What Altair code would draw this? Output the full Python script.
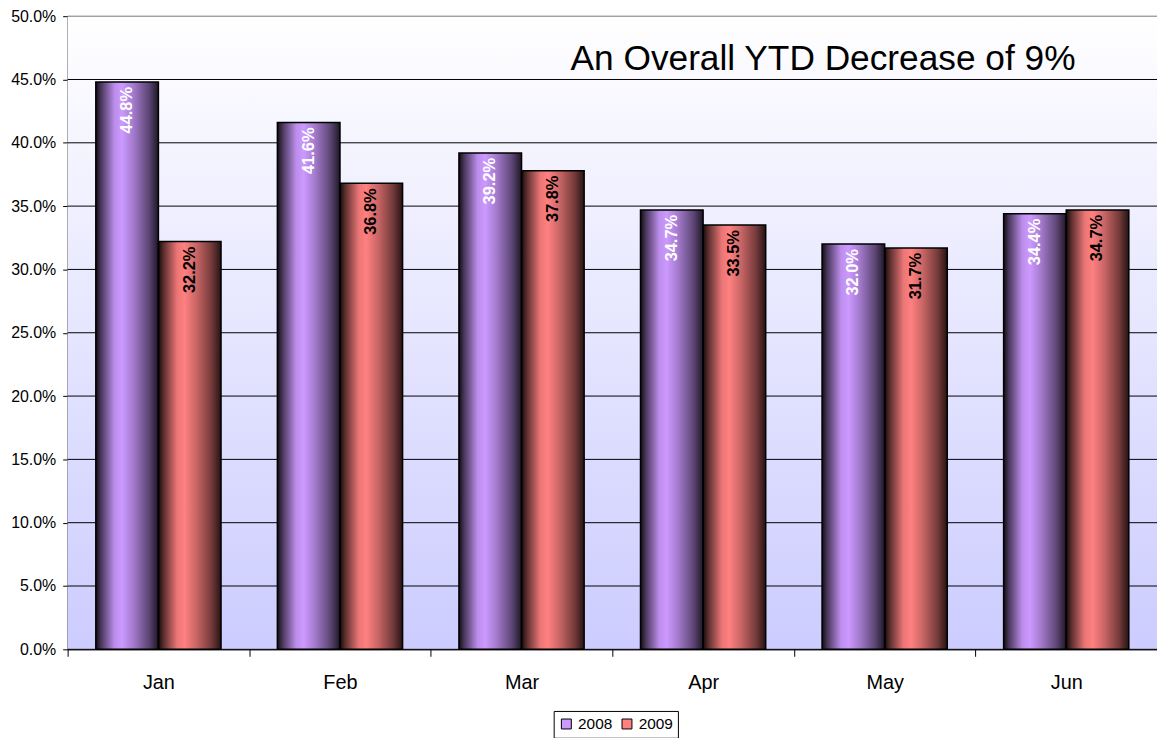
import altair as alt
import pandas as pd

months = ["Jan", "Feb", "Mar", "Apr", "May", "Jun"]
years = ["2008", "2009"]
v2008 = [44.8, 41.6, 39.2, 34.7, 32.0, 34.4]
v2009 = [32.2, 36.8, 37.8, 33.5, 31.7, 34.7]
y_ticks = [0, 5, 10, 15, 20, 25, 30, 35, 40, 45, 50]
headline = "An Overall YTD Decrease of 9%"

rows = []
for m, a, b in zip(months, v2008, v2009):
    rows.append({"month": m, "year": "2008", "value": a / 100})
    rows.append({"month": m, "year": "2009", "value": b / 100})
df = pd.DataFrame(rows)
grid_df = pd.DataFrame({"value": [t / 100 for t in y_ticks]})

FONT = "Liberation Sans"

shade_grad = alt.LinearGradient(
    gradient="linear", x1=0, y1=0, x2=1, y2=0,
    stops=[
        alt.GradientStop(color="rgba(0,0,0,0.92)", offset=0),
        alt.GradientStop(color="rgba(0,0,0,0.65)", offset=0.08),
        alt.GradientStop(color="rgba(0,0,0,0.08)", offset=0.3),
        alt.GradientStop(color="rgba(0,0,0,0)", offset=0.42),
        alt.GradientStop(color="rgba(0,0,0,0.2)", offset=0.6),
        alt.GradientStop(color="rgba(0,0,0,0.55)", offset=0.85),
        alt.GradientStop(color="rgba(0,0,0,0.85)", offset=1),
    ],
)

bg_grad = alt.LinearGradient(
    gradient="linear", x1=0, y1=0, x2=0, y2=1,
    stops=[
        alt.GradientStop(color="#FFFFFF", offset=0),
        alt.GradientStop(color="#CCCCFF", offset=1),
    ],
)

x_enc = alt.X(
    "month:N", sort=months, title=None,
    scale=alt.Scale(paddingInner=0, paddingOuter=0),
    axis=alt.Axis(
        labelAngle=0, labelFontSize=20, labelFont=FONT, labelColor="black",
        tickBand="extent", tickSize=7, tickColor="black", domainColor="black",
        labelPadding=16, grid=False,
    ),
)
y_enc = alt.Y(
    "value:Q", title=None,
    scale=alt.Scale(domain=[0, 0.5], nice=False),
    axis=alt.Axis(
        values=[t / 100 for t in y_ticks], format=".1%",
        labelFontSize=16, labelFont=FONT, labelColor="black", labelPadding=7,
        tickSize=5, tickColor="black", domainColor="black", grid=False,
    ),
)

background = alt.Chart(pd.DataFrame({"k": [0]})).mark_rect(fill=bg_grad).encode(
    x=alt.value(0), x2=alt.value("width"), y=alt.value(0), y2=alt.value("height")
)

gridlines = alt.Chart(grid_df).mark_rule(strokeWidth=1).encode(
    y=alt.Y("value:Q"),
    color=alt.condition(alt.datum.value >= 0.5, alt.value("#808080"), alt.value("black")),
)

base = alt.Chart(df).encode(
    x=x_enc,
    xOffset=alt.XOffset("year:N", sort=years, scale=alt.Scale(paddingInner=0, paddingOuter=0.45)),
    y=y_enc,
)

bars = base.mark_bar().encode(
    color=alt.Color(
        "year:N", sort=years,
        scale=alt.Scale(domain=years, range=["#CC99FF", "#FF8080"]),
        legend=alt.Legend(
            title=None, orient="none", legendX=489, legendY=699, direction="horizontal",
            symbolType="square", symbolSize=100, symbolStrokeColor="black",
            symbolStrokeWidth=1, labelFontSize=15.5, labelFont=FONT, labelColor="black",
            padding=5, labelOffset=4, columnPadding=7, strokeColor="black",
            fillColor="white", symbolOpacity=1,
        ),
    )
)

shade = base.mark_bar(fill=shade_grad, stroke="black", strokeWidth=1.5)

labels = base.mark_text(
    angle=270, align="right", baseline="middle", dx=-5,
    fontWeight="bold", fontSize=16.5, font=FONT,
).encode(
    text=alt.Text("value:Q", format=".1%"),
    color=alt.condition(alt.datum.year == "2008", alt.value("white"), alt.value("black")),
)

title_df = pd.DataFrame({"t": [headline]})
title = alt.Chart(title_df).mark_text(
    fontSize=35.5, font=FONT, color="black", align="center", baseline="middle"
).encode(text="t:N", x=alt.value(760), y=alt.value(43))

chart = (
    alt.layer(background, gridlines, bars, shade, labels, title)
    .properties(
        width=1096, height=637,
        autosize=alt.AutoSizeParams(type="none"),
        padding={"left": 60, "top": 6, "right": 0, "bottom": 88},
        background="white",
    )
    .configure_view(stroke="#808080", strokeWidth=1)
)

chart.save("out.html", embed_options={"renderer": "svg", "actions": False})
